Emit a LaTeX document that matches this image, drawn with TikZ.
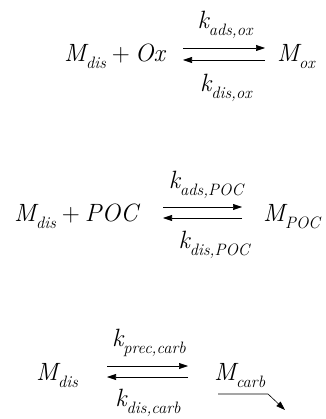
\documentclass[tikz,border=0pt]{standalone}
\usetikzlibrary{arrows.meta}
\newcommand{\sbs}[1]{\raisebox{-0.28em}{\fontsize{16.5}{16.5}\selectfont\itshape #1}}
\newcommand{\plus}{\hspace{6pt}\upshape+\hspace{5pt}\itshape}
\tikzset{
  lbl/.style={inner sep=0pt, anchor=base west, font=\fontsize{25}{25}\selectfont\itshape},
  klbl/.style={inner sep=0pt, anchor=center, font=\fontsize{25}{25}\selectfont\itshape},
  rxn/.style={line width=0.6pt, -{Triangle[length=9pt,width=6pt]}}
}
\begin{document}
\begin{tikzpicture}[x=1pt,y=-1pt]
\useasboundingbox (0,0) rectangle (325,419);
% row 1
\node[lbl] (a1) at (64,62) {M\sbs{dis}\plus Ox};
\node[lbl] (b1) at (277,62) {M\sbs{ox}};
\coordinate (p1) at (183,48); \coordinate (q1) at (265,48);
\coordinate (r1) at (265,60); \coordinate (s1) at (183,60);
\draw[rxn] (p1) -- (q1);
\draw[rxn] (r1) -- (s1);
\node[klbl] (k1) at (225,25) {k\sbs{ads,ox}};
\node[klbl] (d1) at (226,88) {k\sbs{dis,ox}};
% row 2
\node[lbl] (a2) at (14,221) {M\sbs{dis}\plus POC};
\node[lbl] (b2) at (263,221) {M\sbs{POC}};
\coordinate (p2) at (163,207); \coordinate (q2) at (242,207);
\coordinate (r2) at (242,218); \coordinate (s2) at (163,218);
\draw[rxn] (p2) -- (q2);
\draw[rxn] (r2) -- (s2);
\node[klbl] (k2) at (206,185) {k\sbs{ads,POC}};
\node[klbl] (d2) at (214,245) {k\sbs{dis,POC}};
% row 3
\node[lbl] (a3) at (36,380) {M\sbs{dis}};
\node[lbl] (b3) at (214,380) {M\sbs{carb}};
\coordinate (p3) at (107,366); \coordinate (q3) at (188,366);
\coordinate (r3) at (188,377); \coordinate (s3) at (107,377);
\draw[rxn] (p3) -- (q3);
\draw[rxn] (r3) -- (s3);
\node[klbl] (k3) at (149,343) {k\sbs{prec,carb}};
\node[klbl] (d3) at (148,403) {k\sbs{dis,carb}};
\coordinate (e1) at (218,394); \coordinate (e2) at (268,394); \coordinate (e3) at (285,410);
\draw[rxn] (e1) -- (e2) -- (e3);
\end{tikzpicture}
\end{document}
